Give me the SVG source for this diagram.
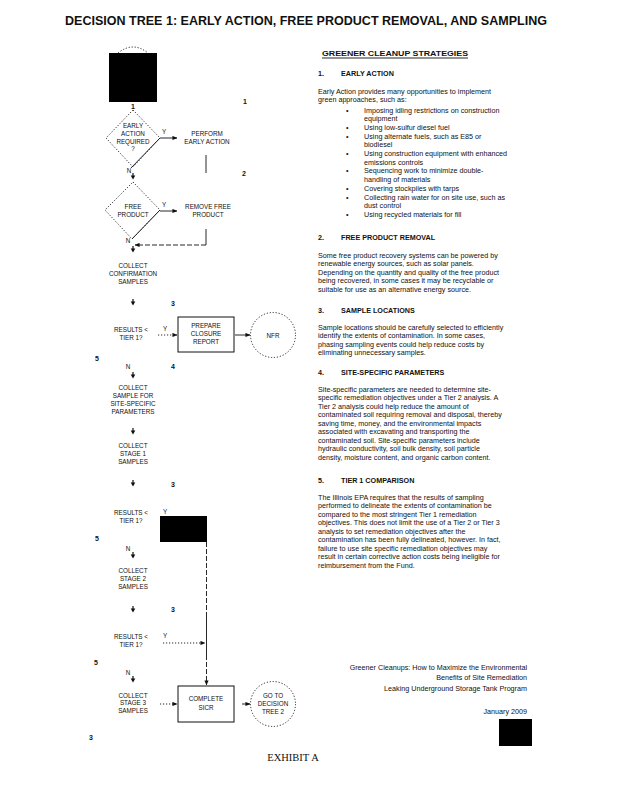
<svg xmlns="http://www.w3.org/2000/svg" width="618" height="800" viewBox="0 0 618 800">
<style>
.bg{fill:#fff}
.ft{font-family:"Liberation Sans",Arial,sans-serif;font-size:6.3px;fill:#111;text-anchor:middle}
.nm{font-family:"Liberation Sans",Arial,sans-serif;font-size:7px;font-weight:bold;fill:#111;text-anchor:middle}
.p{font-family:"Liberation Sans",Arial,sans-serif;font-size:7.2px;fill:#111}
.h{font-family:"Liberation Sans",Arial,sans-serif;font-size:7.2px;font-weight:bold;fill:#111}
.ln{stroke:#111;stroke-width:0.9;fill:none}
.dot{stroke:#111;stroke-width:0.9;fill:none;stroke-dasharray:1.2 1.8}
.dash{stroke:#111;stroke-width:0.9;fill:none;stroke-dasharray:5 2}
.box{stroke:#111;stroke-width:1;fill:#fff}
.blk{fill:#000}
</style>
<defs>
<marker id="ah" viewBox="0 0 6 6" refX="5.5" refY="3" markerWidth="5" markerHeight="5" markerUnits="userSpaceOnUse" orient="auto">
<path d="M0,0.5 L6,3 L0,5.5 Z" fill="#111"/>
</marker>
<g id="dn"><path d="M0,-4 V0" stroke="#111" stroke-width="1.2"/><path d="M-2.3,-1.5 H2.3 L0,2.5 Z" fill="#111"/></g>
</defs>
<rect class="bg" x="0" y="0" width="618" height="800"/>

<text x="306" y="25" font-family="'Liberation Sans',Arial,sans-serif" font-size="12.5" font-weight="bold" fill="#111" text-anchor="middle" textLength="482" lengthAdjust="spacingAndGlyphs">DECISION TREE 1: EARLY ACTION, FREE PRODUCT REMOVAL, AND SAMPLING</text>

<g id="start">
<path class="dot" d="M118,53 Q133,41 148,53"/>
<rect class="blk" x="109" y="53" width="48" height="49"/>
<text class="nm" x="133" y="109">1</text>
</g>

<g id="d-early">
<polygon class="dot" points="133,110 160,138 133,167 106,138"/>
<line class="ln" x1="160" y1="138" x2="131" y2="168"/>
<text class="ft" x="133" y="127.5">EARLY</text>
<text class="ft" x="133" y="135.5">ACTION</text>
<text class="ft" x="133" y="143.5">REQUIRED</text>
<text class="ft" x="133" y="150.5">?</text>
</g>

<g id="perform">
<text class="ft" x="207" y="135.5">PERFORM</text>
<text class="ft" x="207" y="143.5">EARLY ACTION</text>
</g>

<g id="d-free">
<polygon class="dot" points="133,182 160,210 132,239 105,210"/>
<line class="ln" x1="160" y1="210" x2="132" y2="239"/>
<text class="ft" x="133" y="208.5">FREE</text>
<text class="ft" x="133" y="216.5">PRODUCT</text>
</g>

<g id="remove">
<text class="ft" x="208" y="208.5">REMOVE FREE</text>
<text class="ft" x="208" y="216.5">PRODUCT</text>
</g>

<g id="confirm">
<text class="ft" x="133" y="267.5">COLLECT</text>
<text class="ft" x="133" y="275.5">CONFIRMATION</text>
<text class="ft" x="133" y="283.5">SAMPLES</text>
</g>

<g id="res1">
<text class="ft" x="131" y="331.5">RESULTS &lt;</text>
<text class="ft" x="131" y="339.5">TIER 1?</text>
</g>

<g id="closure">
<rect class="box" x="178" y="317" width="56" height="35"/>
<text class="ft" x="206" y="328">PREPARE</text>
<text class="ft" x="206" y="336">CLOSURE</text>
<text class="ft" x="206" y="344">REPORT</text>
</g>

<g id="nfr">
<circle class="dot" cx="273" cy="335" r="22.5"/>
<text class="ft" x="273" y="337.5">NFR</text>
</g>

<g id="site">
<text class="ft" x="133" y="389.5">COLLECT</text>
<text class="ft" x="133" y="397.5">SAMPLE FOR</text>
<text class="ft" x="133" y="405.5">SITE-SPECIFIC</text>
<text class="ft" x="133" y="413.5">PARAMETERS</text>
</g>

<g id="stage1">
<text class="ft" x="133" y="447.5">COLLECT</text>
<text class="ft" x="133" y="455.5">STAGE 1</text>
<text class="ft" x="133" y="463.5">SAMPLES</text>
</g>

<g id="res2">
<text class="ft" x="131" y="514.5">RESULTS &lt;</text>
<text class="ft" x="131" y="522.5">TIER 1?</text>
</g>

<g id="redacted">
<rect class="blk" x="160" y="516" width="47" height="26"/>
</g>

<g id="stage2">
<text class="ft" x="133" y="572.5">COLLECT</text>
<text class="ft" x="133" y="580.5">STAGE 2</text>
<text class="ft" x="133" y="588.5">SAMPLES</text>
</g>

<g id="res3">
<text class="ft" x="131" y="638.5">RESULTS &lt;</text>
<text class="ft" x="131" y="646.5">TIER 1?</text>
</g>

<g id="stage3">
<text class="ft" x="133" y="697.5">COLLECT</text>
<text class="ft" x="133" y="705">STAGE 3</text>
<text class="ft" x="133" y="713">SAMPLES</text>
</g>

<g id="sicr">
<rect class="box" x="178" y="686" width="56" height="36"/>
<text class="ft" x="206" y="701">COMPLETE</text>
<text class="ft" x="206" y="710">SICR</text>
</g>

<g id="tree2">
<circle class="dot" cx="273" cy="704" r="22.5"/>
<text class="ft" x="273" y="697.5">GO TO</text>
<text class="ft" x="273" y="705.5">DECISION</text>
<text class="ft" x="273" y="713.5">TREE 2</text>
</g>

<g id="connectors">
<line class="ln" x1="160" y1="138" x2="177" y2="138" marker-end="url(#ah)"/>
<line class="ln" x1="206" y1="155" x2="206" y2="173"/>
<line class="ln" x1="160" y1="211" x2="177" y2="211" marker-end="url(#ah)"/>
<polyline class="ln" points="206,229 206,245"/>
<line class="dash" x1="206" y1="245" x2="135" y2="245" marker-end="url(#ah)"/>
<line class="dot" x1="158" y1="335" x2="177" y2="335" marker-end="url(#ah)"/>
<line class="ln" x1="235" y1="335" x2="250" y2="335" marker-end="url(#ah)"/>
<line class="dash" x1="206.5" y1="542" x2="206.5" y2="612"/>
<line class="ln" x1="206.5" y1="612" x2="206.5" y2="655"/>
<line class="dash" x1="206.5" y1="655" x2="206.5" y2="685" marker-end="url(#ah)"/>
<line class="dot" x1="163" y1="643" x2="205" y2="643" marker-end="url(#ah)"/>
<line class="dot" x1="160" y1="704" x2="177" y2="704" marker-end="url(#ah)"/>
<line class="ln" x1="242" y1="704" x2="250" y2="704" marker-end="url(#ah)"/>
<use href="#dn" x="133" y="177"/>
<use href="#dn" x="133" y="250"/>
<use href="#dn" x="133" y="303"/>
<use href="#dn" x="133" y="376"/>
<use href="#dn" x="133" y="432"/>
<use href="#dn" x="133" y="484"/>
<use href="#dn" x="133" y="556"/>
<use href="#dn" x="133" y="610"/>
<use href="#dn" x="133" y="680"/>
</g>

<g id="labels">
<text class="ft" x="164" y="133.5">Y</text>
<text class="ft" x="129" y="172.5">N</text>
<text class="ft" x="164" y="206.5">Y</text>
<text class="ft" x="128" y="242.5">N</text>
<text class="ft" x="165" y="331">Y</text>
<text class="ft" x="128" y="368.5">N</text>
<text class="ft" x="165" y="513.5">Y</text>
<text class="ft" x="128" y="550.5">N</text>
<text class="ft" x="165" y="637.5">Y</text>
<text class="ft" x="128" y="674.5">N</text>
<text class="nm" x="245" y="103.5">1</text>
<text class="nm" x="244" y="175.5">2</text>
<text class="nm" x="173" y="305.5">3</text>
<text class="nm" x="97" y="360.5">5</text>
<text class="nm" x="173" y="368.5">4</text>
<text class="nm" x="173" y="486.5">3</text>
<text class="nm" x="97" y="540.5">5</text>
<text class="nm" x="173" y="611.5">3</text>
<text class="nm" x="96" y="664.5">5</text>
<text class="nm" x="91" y="739.5">3</text>
</g>

<g id="strategies">
<text x="322" y="56" font-family="'Liberation Sans',Arial,sans-serif" font-size="8" font-weight="bold" fill="#111" textLength="146" lengthAdjust="spacingAndGlyphs">GREENER CLEANUP STRATEGIES</text>
<line class="ln" x1="322" y1="58" x2="468" y2="58"/>

<text class="h" x="318" y="75.5">1.</text><text class="h" x="341" y="75.5">EARLY ACTION</text>
<text class="p" x="318" y="93.5">Early Action provides many opportunities to implement</text>
<text class="p" x="318" y="102">green approaches, such as:</text>
<g class="p">
<text x="346" y="112.5">•</text><text x="364" y="112.5">Imposing idling restrictions on construction</text>
<text x="364" y="121.2">equipment</text>
<text x="346" y="129.9">•</text><text x="364" y="129.9">Using low-sulfur diesel fuel</text>
<text x="346" y="138.6">•</text><text x="364" y="138.6">Using alternate fuels, such as E85 or</text>
<text x="364" y="147.3">biodiesel</text>
<text x="346" y="156">•</text><text x="364" y="156">Using construction equipment with enhanced</text>
<text x="364" y="164.7">emissions controls</text>
<text x="346" y="173.4">•</text><text x="364" y="173.4">Sequencing work to minimize double-</text>
<text x="364" y="182.1">handling of materials</text>
<text x="346" y="190.8">•</text><text x="364" y="190.8">Covering stockpiles with tarps</text>
<text x="346" y="199.5">•</text><text x="364" y="199.5">Collecting rain water for on site use, such as</text>
<text x="364" y="208.2">dust control</text>
<text x="346" y="216.9">•</text><text x="364" y="216.9">Using recycled materials for fill</text>
</g>

<text class="h" x="318" y="239.5">2.</text><text class="h" x="341" y="239.5">FREE PRODUCT REMOVAL</text>
<g class="p">
<text x="318" y="257.5">Some free product recovery systems can be powered by</text>
<text x="318" y="266">renewable energy sources, such as solar panels.</text>
<text x="318" y="274.5">Depending on the quantity and quality of the free product</text>
<text x="318" y="283">being recovered, in some cases it may be recyclable or</text>
<text x="318" y="291.5">suitable for use as an alternative energy source.</text>
</g>

<text class="h" x="318" y="312.5">3.</text><text class="h" x="341" y="312.5">SAMPLE LOCATIONS</text>
<g class="p">
<text x="318" y="329.5">Sample locations should be carefully selected to efficiently</text>
<text x="318" y="338">identify the extents of contamination.  In some cases,</text>
<text x="318" y="346.5">phasing sampling events could help reduce costs by</text>
<text x="318" y="355">eliminating unnecessary samples.</text>
</g>

<text class="h" x="318" y="374.5">4.</text><text class="h" x="341" y="374.5">SITE-SPECIFIC PARAMETERS</text>
<g class="p">
<text x="318" y="391.5">Site-specific parameters are needed to determine site-</text>
<text x="318" y="400">specific remediation objectives under a Tier 2 analysis.  A</text>
<text x="318" y="408.5">Tier 2 analysis could help reduce the amount of</text>
<text x="318" y="417">contaminated soil requiring removal and disposal, thereby</text>
<text x="318" y="425.5">saving time, money, and the environmental impacts</text>
<text x="318" y="434">associated with excavating and transporting the</text>
<text x="318" y="442.5">contaminated soil.  Site-specific parameters include</text>
<text x="318" y="451">hydraulic conductivity, soil bulk density, soil particle</text>
<text x="318" y="459.5">density, moisture content, and organic carbon content.</text>
</g>

<text class="h" x="318" y="482.5">5.</text><text class="h" x="341" y="482.5">TIER 1 COMPARISON</text>
<g class="p">
<text x="318" y="499.5">The Illinois EPA requires that the results of sampling</text>
<text x="318" y="508">performed to delineate the extents of contamination be</text>
<text x="318" y="516.5">compared to the most stringent Tier 1 remediation</text>
<text x="318" y="525">objectives.  This does not limit the use of a Tier 2 or Tier 3</text>
<text x="318" y="533.5">analysis to set remediation objectives after the</text>
<text x="318" y="542">contamination has been fully delineated, however.  In fact,</text>
<text x="318" y="550.5">failure to use site specific remediation objectives may</text>
<text x="318" y="559">result in certain corrective action costs being ineligible for</text>
<text x="318" y="567.5">reimbursement from the Fund.</text>
</g>
</g>

<g id="footer">
<g class="p" text-anchor="end">
<text x="527" y="670">Greener Cleanups: How to Maximize the Environmental</text>
<text x="527" y="680">Benefits of Site Remediation</text>
<text x="527" y="690.5">Leaking Underground Storage Tank Program</text>
<text x="527" y="713.5">January 2009</text>
</g>
<rect class="blk" x="499" y="719" width="33" height="27"/>
<text x="293" y="761" font-family="'Liberation Serif','Times New Roman',serif" font-size="10.5" fill="#111" text-anchor="middle">EXHIBIT A</text>
</g>
</svg>
